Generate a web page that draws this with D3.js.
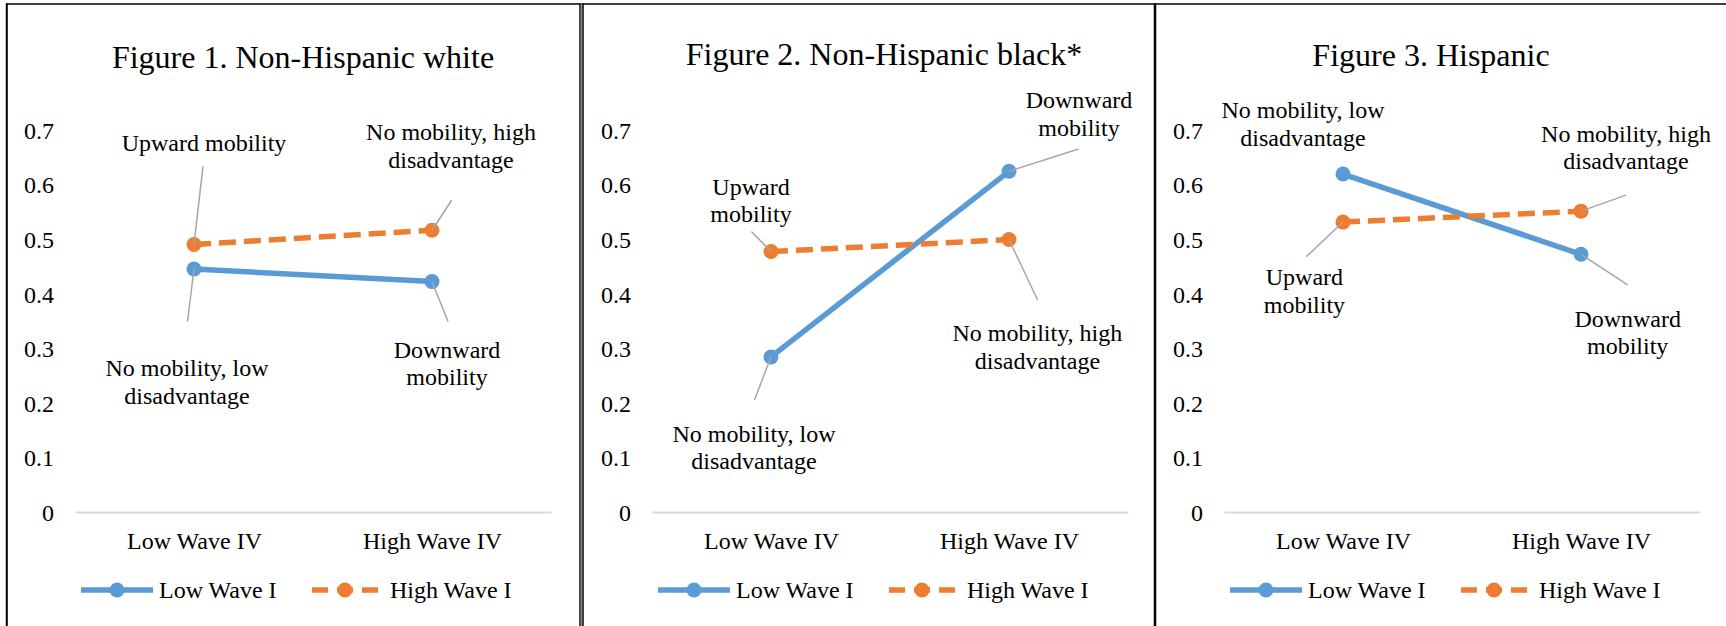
<!DOCTYPE html>
<html>
<head>
<meta charset="utf-8">
<script src="https://cdn.jsdelivr.net/npm/d3@7/dist/d3.min.js"></script>
<style>
  body { margin: 0; background: #ffffff; }
  svg text { font-family: "Liberation Serif", "Tinos", "Times New Roman", "Nimbus Roman", "DejaVu Serif", "Noto Serif", serif; fill: #000; }
</style>
</head>
<body>
<svg id="chart" width="1726" height="626"></svg>
<script>
// ---- data ----
const categories = ["Low Wave IV", "High Wave IV"];
const seriesNames = ["Low Wave I", "High Wave I"];
const yTicks = [0, 0.1, 0.2, 0.3, 0.4, 0.5, 0.6, 0.7];
const titles = [
  "Figure 1. Non-Hispanic white",
  "Figure 2. Non-Hispanic black*",
  "Figure 3. Hispanic"
];
// one pair of values per figure: [Low Wave IV, High Wave IV]
const lowWaveI = [
  [0.445, 0.422],
  [0.284, 0.624],
  [0.619, 0.472]
];
const highWaveI = [
  [0.490, 0.516],
  [0.477, 0.499],
  [0.531, 0.551]
];
// point labels ("|" separates lines)
const lowWaveILabels = [
  ["No mobility, low|disadvantage", "Downward|mobility"],
  ["No mobility, low|disadvantage", "Downward|mobility"],
  ["No mobility, low|disadvantage", "Downward|mobility"]
];
const highWaveILabels = [
  ["Upward mobility", "No mobility, high|disadvantage"],
  ["Upward|mobility", "No mobility, high|disadvantage"],
  ["Upward|mobility", "No mobility, high|disadvantage"]
];

// ---- layout ----
const W = 1726, H = 626;
const panelLeft = [6, 583, 1155];
const titlePos = [[297, 57], [301, 54], [276, 55]];
const plotX = [69, 545];
const plotY = [512, 129.8];
const labelLine = 27.5;
const colors = ["#5B9BD5", "#ED7D31"];
const dash = "17,8";
const lineW = 5.5, markerR = 7.5;

// label placement relative to its point: [label dx, label dy, leader dx, leader dy] (leader null = none)
const lowLabelPlace = [
  [[-7, 99, -6.5, 52.5], [15, 67.7, 16, 40]],
  [[-17, 76.3, -16.6, 43], [70, -71.3, 69.6, -22.3]],
  [[-40, -64, null, null], [46.7, 64, 46.7, 30.7]]
];
const highLabelPlace = [
  [[10, -101.8, 9, -78], [19, -98.6, 19.6, -30]],
  [[-20, -65, -19.6, -20], [28.4, 93.2, 28.6, 60.5]],
  [[-38.6, 54.7, -36.7, 34.7], [45, -78, 45, -16]]
];

const svg = d3.select("#chart");
svg.append("rect").attr("width", W).attr("height", H).attr("fill", "#fff");

const x = d3.scalePoint().domain(categories).range(plotX).padding(0.5);
const y = d3.scaleLinear().domain([0, 0.7]).range(plotY);
const line = d3.line().x((d, i) => x(categories[i])).y(d => y(d));

titles.forEach((title, p) => {
  const g = svg.append("g").attr("transform", `translate(${panelLeft[p]},0)`);

  g.append("text")
    .attr("x", titlePos[p][0]).attr("y", titlePos[p][1])
    .attr("dy", "0.35em")
    .attr("text-anchor", "middle")
    .style("font-size", "32px")
    .text(title);

  // value axis (labels only)
  const ya = g.append("g").attr("transform", "translate(48,0)")
    .call(d3.axisLeft(y).tickValues(yTicks).tickSize(0).tickPadding(0)
      .tickFormat(d => d === 0 ? "0" : d3.format(".1f")(d)));
  ya.attr("font-family", null);
  ya.select(".domain").remove();
  ya.selectAll("text").style("font-size", "24px").attr("dy", "0.35em");

  // category axis
  const xa = g.append("g").attr("transform", `translate(0,${plotY[0]})`)
    .call(d3.axisBottom(x).tickSize(0).tickSizeOuter(0));
  xa.attr("font-family", null);
  xa.select(".domain").attr("stroke", "#D9D9D9").attr("stroke-width", 2);
  xa.selectAll("text").attr("y", 29).attr("dy", "0.35em").style("font-size", "24px");

  const series = [lowWaveI[p], highWaveI[p]];
  series.forEach((vals, s) => {
    g.append("path").datum(vals)
      .attr("d", line)
      .attr("fill", "none")
      .attr("stroke", colors[s])
      .attr("stroke-width", lineW)
      .attr("stroke-dasharray", s === 1 ? dash : null);
    g.selectAll(null).data(vals).enter().append("circle")
      .attr("cx", (d, i) => x(categories[i]))
      .attr("cy", d => y(d))
      .attr("r", markerR)
      .attr("fill", colors[s]);
  });

  // point labels with leader lines
  const labelSets = [[lowWaveI[p], lowWaveILabels[p], lowLabelPlace[p]],
                     [highWaveI[p], highWaveILabels[p], highLabelPlace[p]]];
  labelSets.forEach(([vals, labels, place]) => {
    vals.forEach((v, i) => {
      const px = x(categories[i]), py = y(v);
      const [ldx, ldy, kdx, kdy] = place[i];
      if (kdx !== null) {
        g.append("line")
          .attr("x1", px).attr("y1", py)
          .attr("x2", px + kdx).attr("y2", py + kdy)
          .attr("stroke", "#A6A6A6").attr("stroke-width", 1.5);
      }
      const t = g.append("text")
        .attr("text-anchor", "middle")
        .style("font-size", "24px");
      labels[i].split("|").forEach((ln, k) => {
        t.append("tspan")
          .attr("x", px + ldx)
          .attr("y", py + ldy + k * labelLine)
          .attr("dy", "0.35em")
          .text(ln);
      });
    });
  });

  // legend
  const ly = 590;
  const lg = g.append("g");
  lg.append("line").attr("x1", 75).attr("x2", 147).attr("y1", ly).attr("y2", ly)
    .attr("stroke", colors[0]).attr("stroke-width", lineW);
  lg.append("circle").attr("cx", 111).attr("cy", ly).attr("r", markerR).attr("fill", colors[0]);
  lg.append("text").attr("x", 153).attr("y", ly).attr("dy", "0.35em")
    .style("font-size", "24px").text(seriesNames[0]);
  lg.append("line").attr("x1", 306).attr("x2", 372).attr("y1", ly).attr("y2", ly)
    .attr("stroke", colors[1]).attr("stroke-width", lineW).attr("stroke-dasharray", "16,9,16,9,16");
  lg.append("circle").attr("cx", 339).attr("cy", ly).attr("r", markerR).attr("fill", colors[1]);
  lg.append("text").attr("x", 384).attr("y", ly).attr("dy", "0.35em")
    .style("font-size", "24px").text(seriesNames[1]);
});

// frame lines around the three figures
const frame = svg.append("g").attr("fill", "none");
frame.append("line").attr("x1", 6).attr("x2", W).attr("y1", 4).attr("y2", 4)
  .attr("stroke", "#000").attr("stroke-width", 1.5);
[[6.8, 2, "#000"], [580, 1.5, "#000"], [581.5, 1.5, "#8c8c8c"], [583, 1.5, "#000"], [1155, 2.5, "#000"]]
  .forEach(([fx, w, c]) => {
    frame.append("line").attr("x1", fx).attr("x2", fx).attr("y1", 3.25).attr("y2", H)
      .attr("stroke", c).attr("stroke-width", w);
  });
</script>
</body>
</html>
